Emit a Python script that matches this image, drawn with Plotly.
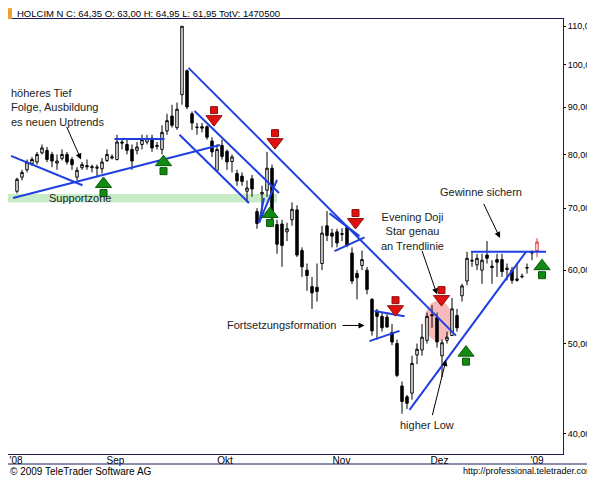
import math
import plotly.graph_objects as go

# daily OHLC, Aug 2008 - Jan 2009 (trading-day index = position)
opens = [73, 75.6, 77, 78.2, 78.5, 80.3, 80.8, 80, 78.3, 79.2, 80, 79, 75.6, 77.4, 77.8, 77.4, 77.3, 77.2, 78.8, 79.3,
         79, 82.5, 82, 81, 80.8, 82, 82.5, 83.3, 81.6, 81, 84.8, 88, 85.5, 92.8, 98.5, 88.5, 85.5, 85.7, 85.7, 82.7,
         76.9, 81.8, 80.6, 78.6, 76.3, 75.8, 73, 75.3, 69.4, 72.5, 73.2, 77.3, 67.2, 67.3, 66, 68, 69.7, 63, 60, 57.6,
         57.5, 61, 67, 65.8, 66, 65.7, 66.7, 62.6, 59.5, 60.7, 60, 55.8, 54.2, 53.5, 53.4, 51.4, 50, 45, 43.8, 44.2,
         48.6, 49.2, 50.4, 53.7, 53.3, 48.5, 50.4, 51, 53.6, 56.3, 58.4, 61.5, 60.8, 60, 62.3, 60.6, 61.6, 61.6, 60.3, 60,
         58.5, 59, 60.3, 62.6, 63]
highs = [75.5, 77, 79, 79.5, 80.5, 82, 81.5, 80.5, 80, 81, 80.5, 79.5, 77.5, 78.5, 79, 78, 78, 79.3, 81, 80,
         84, 83, 83, 82, 82.5, 84, 84, 84, 82.5, 86, 88.5, 90.5, 91, 110, 98.8, 89, 86.5, 86.5, 86, 83.5,
         82, 83, 81, 80, 77, 76.5, 75, 76, 70, 74, 80.5, 78, 68, 68, 67.5, 71, 70.5, 63.5, 61, 59,
         61, 67, 69.5, 66.5, 66.5, 66.6, 67, 63.5, 60, 63, 60.5, 56, 54.5, 54, 54, 52.5, 50.5, 45.5, 44, 48.5,
         50, 52.5, 54, 55, 54, 50.5, 51.5, 56, 54.5, 58, 62.8, 62.8, 62.5, 62.5, 64.5, 61.5, 62.5, 62.5, 61, 60.5,
         61, 59.5, 61, 63, 64.95]
lows = [72.6, 75, 76.5, 77.8, 78, 80, 78.5, 77.5, 77, 78.8, 78, 77, 75, 77, 77, 76.5, 75.6, 76.3, 78.5, 79,
        78.8, 81, 80, 77, 80, 81, 82, 80.5, 81, 80, 84, 85.5, 85, 90.5, 89.5, 85, 84, 84.5, 83, 79.5,
        76.8, 79, 77, 76.5, 74, 74, 71, 72, 66.5, 69, 72, 67.5, 62.5, 60.5, 64.5, 67, 62, 59, 57, 54.5,
        55.5, 60, 64.5, 63.5, 63.5, 64.5, 63.5, 58, 55.8, 60, 56.5, 51, 50.5, 51.5, 52, 49.8, 46, 42, 42.5, 43.5,
        47.5, 48.5, 50, 52, 49.5, 46, 50, 51, 51.5, 55.5, 57.8, 60.5, 60, 58, 61, 58, 59, 59, 58.5, 58,
        58.3, 58.8, 59.5, 61.5, 61.95]
closes = [75.2, 76.5, 78.5, 79, 80, 81.3, 79, 78.7, 78.7, 80, 78.5, 78, 76.9, 78, 77.6, 77.6, 77.5, 78.5, 80, 79.5,
          82.5, 82.3, 80.8, 78.7, 81.5, 83, 83.2, 81.3, 81.8, 84.5, 87, 86, 89.5, 110, 90, 86.5, 85.6, 85.4, 83.5, 80.5,
          81, 79.6, 78.5, 79.5, 74.9, 74.8, 73.6, 73.4, 67.4, 72.8, 77.3, 68.3, 64, 63.8, 66.5, 69.8, 62.3, 60.5, 59.2, 56.7,
          56.9, 65.8, 65.4, 65.3, 64.2, 65.6, 63.8, 58.4, 58.9, 61.6, 57.2, 51.6, 53.5, 52, 52.1, 50.2, 46.2, 43.3, 43.1, 47.6,
          49.3, 50.8, 53.5, 53.6, 50.2, 50.1, 50.8, 54.5, 52, 57.7, 61.8, 61.4, 61.8, 61.5, 61.8, 60.4, 61.2, 59.8, 60.1, 58.5,
          58.7, 59.1, 60.4, 62.7, 64.35]
days = list(range(len(opens)))

month_pos = [-0.2, 19.7, 41.6, 64.9, 84.5, 104]
month_labels = ["'08", "Sep", "Okt", "Nov", "Dez", "'09"]
price_ticks = [40, 50, 60, 70, 80, 90, 100, 110]
price_labels = ['40,00', '50,00', '60,00', '70,00', '80,00', '90,00', '100,00', '110,00']

# trendlines: (x0, y0, x1, y1)
trendlines = [
    (-0.8, 71.8, 40.6, 81.9), (-1.2, 79.7, 13.1, 74.1), (19.5, 83.1, 29.5, 83.1),
    (34.3, 99.2, 87.8, 51.0), (35.5, 89.1, 52.4, 72.7), (32.5, 84.0, 46.4, 70.9),
    (48.4, 67.5, 49.4, 71.8), (48.4, 67.5, 52.0, 75.1),
    (62.5, 69.1, 68.5, 65.3), (63.5, 62.9, 69.5, 65.1),
    (71.5, 54.2, 77.5, 53.5), (70.5, 50.3, 76.5, 51.6),
    (78.5, 42.4, 101.8, 62.8), (90.8, 62.8, 105.8, 62.8),
]
sell_x = [39.4, 51.6, 67.7, 75.7, 84.9]
sell_y = [88.2, 83.3, 68.3, 55.0, 56.4]
buy_x = [17.3, 29.3, 50.6, 89.8, 105]
buy_y = [73.6, 77.7, 68.3, 48.4, 60.0]

FONT = 'Liberation Sans, Arial, sans-serif'
L = math.log10
YMIN, YMAX = 38.0, 112.0
PX_PER_DECADE = 435 / (L(YMAX) - L(YMIN))


def shift(vals, px):
    # move a price by a number of screen pixels on the log axis
    return [v * 10 ** (px / PX_PER_DECADE) for v in vals]


fig = go.Figure()

fig.add_shape(type='rect', x0=-1.8, x1=52, y0=71.0, y1=72.5, fillcolor='#c8ecc8',
              line=dict(width=0), layer='below')
fig.add_shape(type='circle', x0=81.5, x1=87.1, y0=50.3, y1=55.6, fillcolor='rgba(240,140,140,0.6)',
              line=dict(width=0), layer='below')

n = len(opens) - 1
fig.add_trace(go.Candlestick(
    x=days[:n], open=opens[:n], high=highs[:n], low=lows[:n], close=closes[:n],
    increasing=dict(fillcolor='white', line=dict(color='black', width=1)),
    decreasing=dict(fillcolor='black', line=dict(color='black', width=1)),
    whiskerwidth=0, showlegend=False, hoverinfo='skip'))
fig.add_trace(go.Candlestick(
    x=days[n:], open=opens[n:], high=highs[n:], low=lows[n:], close=closes[n:],
    increasing=dict(fillcolor='white', line=dict(color='#e03030', width=1)),
    decreasing=dict(fillcolor='white', line=dict(color='#e03030', width=1)),
    whiskerwidth=0, showlegend=False, hoverinfo='skip'))

for x0, y0, x1, y1 in trendlines:
    fig.add_trace(go.Scatter(x=[x0, x1], y=[y0, y1], mode='lines',
                             line=dict(color='#1f3fe0', width=2), showlegend=False, hoverinfo='skip'))

# block arrows: shaft + head
for xs, ys, color, edge, sign, head in [(sell_x, sell_y, '#e01010', '#901010', 1, 'triangle-down'),
                                        (buy_x, buy_y, '#108a10', '#0a5a0a', -1, 'triangle-up')]:
    fig.add_trace(go.Scatter(x=xs, y=shift(ys, 5 * sign), mode='markers', showlegend=False, hoverinfo='skip',
                             marker=dict(symbol='square', size=7, color=color, line=dict(color=edge, width=1))))
    fig.add_trace(go.Scatter(x=xs, y=shift(ys, -4 * sign), mode='markers', showlegend=False, hoverinfo='skip',
                             marker=dict(symbol=head, size=14, color=color, line=dict(color=edge, width=1))))
    fig.add_trace(go.Scatter(x=xs, y=shift(ys, 5 * sign), mode='markers', showlegend=False, hoverinfo='skip',
                             marker=dict(symbol='square', size=5, color=color, line=dict(width=0))))


def note(text, x, y, align='center', xanchor='center'):
    fig.add_annotation(text=text, x=x, y=L(y), xref='x', yref='y', showarrow=False, align=align,
                       xanchor=xanchor, font=dict(family=FONT, size=11, color='#222'))


def arrow(x0, y0, x1, y1):
    fig.add_annotation(x=x1, y=L(y1), ax=x0, ay=L(y0), xref='x', yref='y', axref='x', ayref='y',
                       text='', showarrow=True, arrowhead=2, arrowsize=1.2, arrowwidth=1, arrowcolor='black')


note('höheres Tief<br>Folge, Ausbildung<br>es neuen Uptrends', -1.6, 89.8, align='left', xanchor='left')
arrow(9.8, 86.0, 12.8, 79.0)
note('Supportzone', 6.0, 71.8, xanchor='left')
note('Fortsetzungsformation', 41.5, 52.3, xanchor='left')
arrow(64.8, 52.3, 69.5, 52.3)
note('Evening Doji<br>Star genau<br>an Trendlinie', 79.0, 66.0)
arrow(80.9, 63.2, 84.0, 56.5)
note('higher Low', 82.0, 40.8)
arrow(83.0, 41.7, 85.8, 48.0)
note('Gewinne sichern', 92.8, 72.8)
arrow(93.2, 71.0, 96.6, 65.0)

fig.add_annotation(text='HOLCIM N C: 64,35 O: 63,00 H: 64,95 L: 61,95 TotV: 1470500', xref='paper', yref='paper',
                   x=0.012, y=1.0, xanchor='left', yanchor='bottom', showarrow=False, yshift=-2,
                   font=dict(family=FONT, size=9.5, color='black'))
fig.add_annotation(text='© 2009 TeleTrader Software AG', xref='paper', yref='paper', x=0, y=0, xanchor='left',
                   yanchor='middle', yshift=-17, showarrow=False, font=dict(family=FONT, size=10, color='black'))
fig.add_annotation(text='http://professional.teletrader.com/', xref='paper', yref='paper', x=1.065, y=0,
                   xanchor='right', yanchor='middle', yshift=-17, showarrow=False,
                   font=dict(family=FONT, size=9, color='black'))
fig.add_shape(type='rect', xref='paper', yref='paper', x0=-0.002, x1=0.007, y0=1.0, y1=1.025,
              fillcolor='#f0a030', line=dict(width=0))
fig.add_shape(type='line', xref='paper', yref='paper', ysizemode='pixel', yanchor=0, x0=0, x1=1.07,
              y0=-10, y1=-10, line=dict(color='#1a1a5a', width=1))

fig.update_xaxes(range=[-1.8, 109.2], tickmode='array', tickvals=month_pos, ticktext=month_labels,
                 showgrid=False, zeroline=False, rangeslider=dict(visible=False), ticks='',
                 ticklabelstandoff=-3, showline=True, linecolor='#1a1a5a', linewidth=1, mirror=True,
                 tickfont=dict(family=FONT, size=10, color='black'))
fig.update_yaxes(type='log', range=[L(YMIN), L(YMAX)], side='right', tickmode='array', tickvals=price_ticks,
                 ticktext=price_labels, showgrid=False, zeroline=False, ticks='outside', ticklen=2,
                 tickcolor='black', showline=True, linecolor='#1a1a5a', linewidth=1, mirror=True,
                 tickfont=dict(family=FONT, size=9, color='black'))
fig.update_layout(width=595, height=477, margin=dict(l=0, r=40, t=11, b=31),
                  plot_bgcolor='white', paper_bgcolor='white', showlegend=False)

fig.write_html('out.html')
